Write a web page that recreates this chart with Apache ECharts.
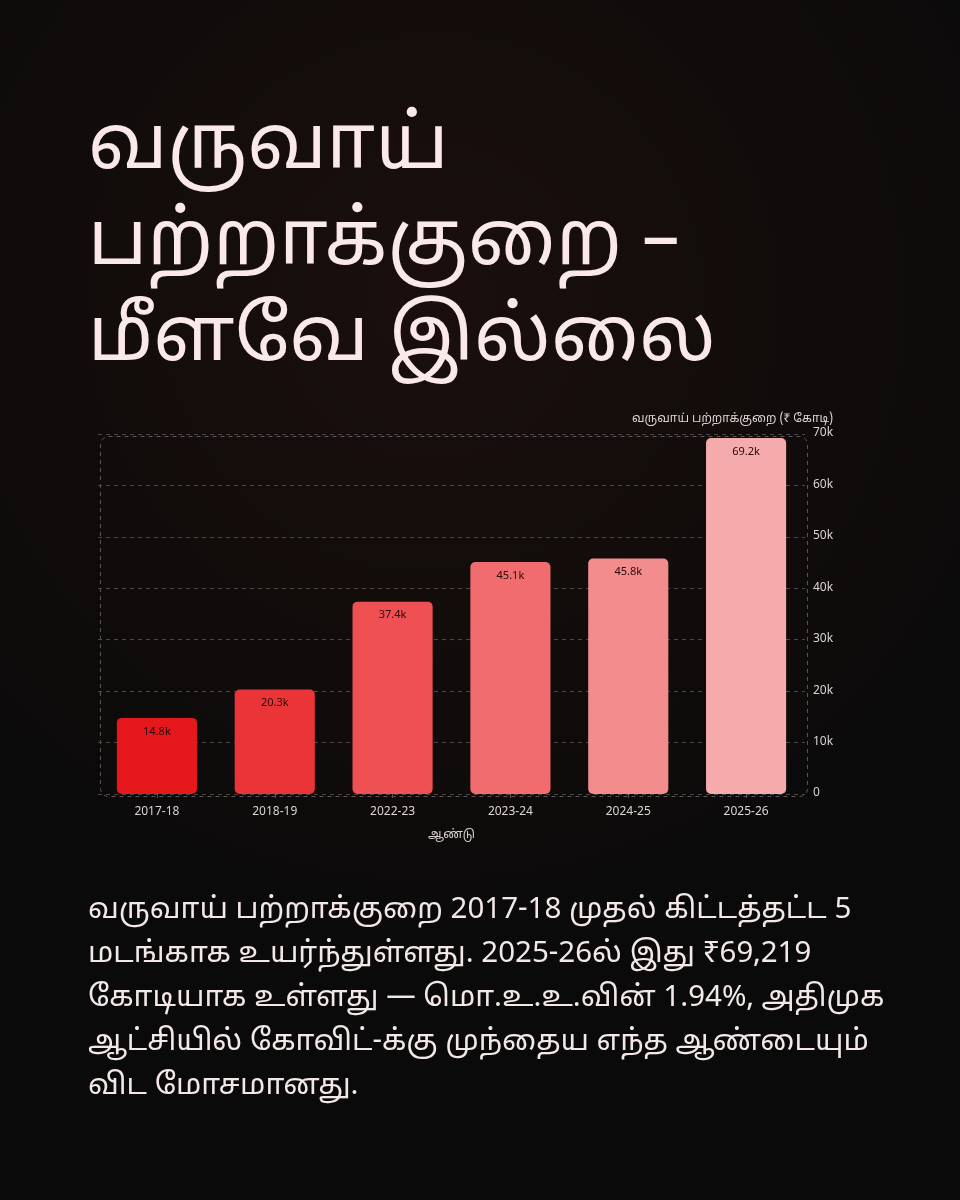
<!DOCTYPE html>
<html>
<head>
<meta charset="utf-8">
<style>
html,body{margin:0;padding:0;background:#0b0909;}
#c{width:960px;height:1200px;}
</style>
<script src="https://cdn.jsdelivr.net/npm/echarts@6/dist/echarts.min.js"></script>
</head>
<body>
<div id="c"></div>
<script>
const titleLines = ['வருவாய்', 'பற்றாக்குறை –', 'மீளவே இல்லை'];
const bodyLines = [
  'வருவாய் பற்றாக்குறை 2017-18 முதல் கிட்டத்தட்ட 5',
  'மடங்காக உயர்ந்துள்ளது. 2025-26ல் இது ₹69,219',
  'கோடியாக உள்ளது — மொ.உ.உ.வின் 1.94%, அதிமுக',
  'ஆட்சியில் கோவிட்-க்கு முந்தைய எந்த ஆண்டையும்',
  'விட மோசமானது.'
];
const categories = ['2017-18', '2018-19', '2022-23', '2023-24', '2024-25', '2025-26'];
const values = [14800, 20300, 37400, 45100, 45800, 69219];
const barColors = ['#e5191b', '#ea3437', '#ee5053', '#f06c6e', '#f28c8d', '#f5aaab'];
const yAxisName = 'வருவாய் பற்றாக்குறை (₹ கோடி)';
const xAxisName = 'ஆண்டு';

const FONT = '"Noto Sans Tamil","Noto Sans","Lato",sans-serif';
const chart = echarts.init(document.getElementById('c'), null, {renderer: 'canvas', width: 960, height: 1200});
const G = {left: 98, top: 434, right: 155, bottom: 406};
chart.setOption({
  backgroundColor: {
    type: 'radial', x: 0.45, y: 0.25, r: 0.7,
    colorStops: [{offset: 0, color: '#1a0f0d'}, {offset: 1, color: '#0a0a0a'}]
  },
  textStyle: {fontFamily: FONT},
  grid: G,
  graphic: [
    {type: 'text', left: 88, top: 105, style: {text: titleLines.join('\n'), fill: '#fbe9ea', font: '400 76px ' + FONT, lineHeight: 96}},
    {type: 'text', left: 88, top: 890, style: {text: bodyLines.join('\n'), fill: '#f3e7e7', font: '400 29.5px ' + FONT, lineHeight: 44}},
    {type: 'rect', left: 98, top: 434, shape: {width: 707, height: 360, r: 8}, style: {fill: 'none', stroke: '#5a5656', lineWidth: 1, lineDash: [4, 4]}, silent: true, z: 0}
  ],
  xAxis: {
    type: 'category', data: categories,
    name: xAxisName, nameLocation: 'middle', nameGap: 36,
    nameTextStyle: {color: '#d9d0d0', fontSize: 12},
    axisLine: {show: false},
    axisTick: {show: true, alignWithLabel: true, length: 5, lineStyle: {color: '#5a5656', type: 'dashed'}},
    axisLabel: {color: '#ddd5d5', fontSize: 12, margin: 13}
  },
  yAxis: {
    type: 'value', position: 'right', min: 0, max: 70000, interval: 10000,
    name: yAxisName, nameLocation: 'end', nameGap: 8,
    nameTextStyle: {color: '#ddd5d5', fontSize: 12, align: 'right', padding: [0, -28, 0, 0]},
    axisLine: {show: false}, axisTick: {show: false},
    axisLabel: {color: '#ddd5d5', fontSize: 12, margin: 8, formatter: v => v === 0 ? '0' : (v / 1000) + 'k'},
    splitLine: {lineStyle: {color: '#4a4646', type: [4, 4]}}
  },
  series: [{
    type: 'bar', barWidth: '68%',
    data: values.map((v, i) => ({value: v, itemStyle: {color: barColors[i]}})),
    itemStyle: {borderRadius: 5},
    label: {show: true, position: 'insideTop', distance: 9, color: '#2a0808', fontSize: 11,
      formatter: p => (p.value / 1000).toFixed(1) + 'k'}
  }]
});
</script>
</body>
</html>
